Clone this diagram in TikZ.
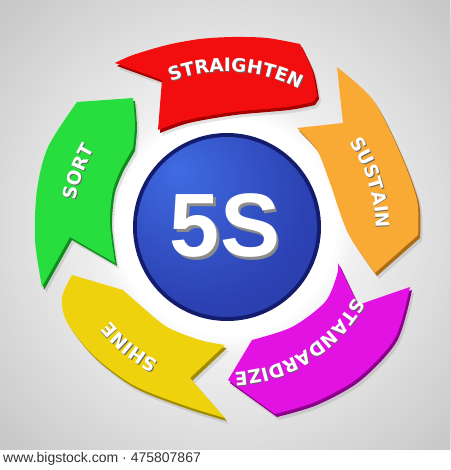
\documentclass[tikz,border=0pt]{standalone}
\usepackage{fontspec}
\usepackage{xcolor}
\usepackage{tikz}
\usetikzlibrary{calc}
\usetikzlibrary{decorations.text}

\setmainfont{Liberation Sans}
\newfontfamily\ringfamily{DejaVu Sans}
\newcommand{\ringfont}{\ringfamily\bfseries\fontsize{18.5}{20}\selectfont}

\definecolor{redFace}{RGB}{242,14,14}
\definecolor{redEdge}{RGB}{165,0,0}
\definecolor{orangeFace}{RGB}{248,170,52}
\definecolor{orangeEdge}{RGB}{172,108,22}
\definecolor{magentaFace}{RGB}{226,18,226}
\definecolor{magentaEdge}{RGB}{140,0,140}
\definecolor{yellowFace}{RGB}{238,210,14}
\definecolor{yellowEdge}{RGB}{160,138,0}
\definecolor{greenFace}{RGB}{40,222,62}
\definecolor{greenEdge}{RGB}{16,140,30}
\definecolor{discRim}{RGB}{20,28,110}
\definecolor{discLight}{RGB}{64,108,226}
\definecolor{discMid}{RGB}{44,66,180}
\definecolor{discDark}{RGB}{34,44,140}

\pgfdeclareradialshading{discglow}{\pgfpoint{-14bp}{16bp}}{%
  color(0bp)=(discLight); color(30bp)=(discMid); color(72bp)=(discDark)}

% arrow outlines in picture pixels, y pointing down
\newcommand{\sortpath}{(77,102) -- (133,98)
  -- plot[smooth] coordinates {(133,98) (135,125) (133,148)} -- (122,167)
  -- plot[smooth] coordinates {(122,167) (113,190) (110,223) (115,263)}
  -- (70,237) -- (42,287)
  -- plot[smooth] coordinates {(42,287) (35,240) (37,190) (48,147) (77,102)} -- cycle}
\newcommand{\straightenpath}{plot[smooth] coordinates {(115,63) (133,55) (167,45) (200,39) (233,37) (267,38) (300,44)}
  -- plot[smooth] coordinates {(300,44) (312,70) (317,96)} -- (313,102)
  -- plot[smooth] coordinates {(313,102) (287,107) (233,112) (187,120) (158,130)}
  -- (162,80) -- cycle}
\newcommand{\sustainpath}{plot[smooth] coordinates {(337,67) (373,100) (400,153) (417,200) (418,235)}
  -- (375,273)
  -- plot[smooth] coordinates {(375,273) (348,233) (330,183) (317,150) (297,128)}
  -- (343,123) -- cycle}
\newcommand{\standardizepath}{(338,263) -- (358,305) -- (410,287)
  -- plot[smooth] coordinates {(410,287) (395,338) (358,378) (315,402) (275,414)}
  -- (228,380) -- (252,340)
  -- plot[smooth] coordinates {(252,340) (292,327) (325,302) (337,275) (338,263)} -- cycle}
\newcommand{\shinepath}{(72,275) -- (123,290)
  -- plot[smooth] coordinates {(123,290) (140,305) (167,327) (200,340) (225,345)}
  -- (190,378) -- (225,418)
  -- plot[smooth] coordinates {(225,418) (183,405) (133,385) (93,355) (67,322) (62,298) (72,275)} -- cycle}

% curved label: text, middle angle, baseline radius
\newcommand{\ringlabel}[3]{%
  \path[decorate, decoration={text along path, text align=center,
      text={|\ringfont\color{black!60}|#1}}]
    ($(C)+({-(#2)-45}:#3)+(0.9,0.9)$) arc[start angle={-(#2)-45}, end angle={-(#2)+45}, radius=#3];
  \path[decorate, decoration={text along path, text align=center,
      text={|\ringfont\color{white}|#1}}]
    ($(C)+({-(#2)-45}:#3)$) arc[start angle={-(#2)-45}, end angle={-(#2)+45}, radius=#3];
}

\begin{document}
\begin{tikzpicture}[x=1pt, y=-1pt,
    arrowshadow/.style={fill=black, opacity=.10, shift={(4,6)}},
    arrowedge/.style={fill=#1, shift={(2,3)}},
    arrowface/.style={fill=#1}]
	\useasboundingbox (0,0) rectangle (450,470);
	\coordinate (C) at (227,227);
	% background glow, ring by ring
	\begin{scope}
		\clip (0,0) rectangle (450,450);
		\foreach \r in {330,326,...,106} {
			\pgfmathsetmacro\g{\r<130 ? max(0,6*(\r-110)/20) : 6+(\r-130)*0.085}
			\fill[black!\g] (C) circle[radius=\r];
		}
	\end{scope}
	\fill[white] (0,450) rectangle (450,470);
	% shadows
	\fill[arrowshadow] \sortpath;
	\fill[arrowshadow] \straightenpath;
	\fill[arrowshadow] \sustainpath;
	\fill[arrowshadow] \standardizepath;
	\fill[arrowshadow] \shinepath;
	% arrows
	\fill[arrowedge=greenEdge] \sortpath;
	\fill[arrowface=greenFace] \sortpath;
	\fill[arrowedge=redEdge] \straightenpath;
	\fill[arrowface=redFace] \straightenpath;
	\fill[arrowedge=orangeEdge] \sustainpath;
	\fill[arrowface=orangeFace] \sustainpath;
	\fill[arrowedge=magentaEdge] \standardizepath;
	\fill[arrowface=magentaFace] \standardizepath;
	\fill[arrowedge=yellowEdge] \shinepath;
	\fill[arrowface=yellowFace] \shinepath;
	% labels
	\ringlabel{STRAIGHTEN}{86.75}{155.5}
	\ringlabel{SUSTAIN}{17}{148.5}
	\ringlabel{STANDARDIZE}{-58}{145.5}
	\ringlabel{SHINE}{231}{150.5}
	\ringlabel{SORT}{159.8}{153.5}
	% center disc
	\fill[discRim] (C) circle[radius=94];
	\shade[shading=discglow] (C) circle[radius=90];
	\node[font=\fontsize{90}{90}\selectfont\bfseries, text=black!45] (fiveSshadow) at (227.5,228.5) {5S};
	\node[font=\fontsize{90}{90}\selectfont\bfseries, text=white] (fiveS) at (225,226) {5S};
	\node[anchor=base west, font=\fontsize{14}{16}\selectfont, text=black!80, inner sep=0pt] (credit) at (3,462) {www.bigstock.com · 475807867};
\end{tikzpicture}
\end{document}
